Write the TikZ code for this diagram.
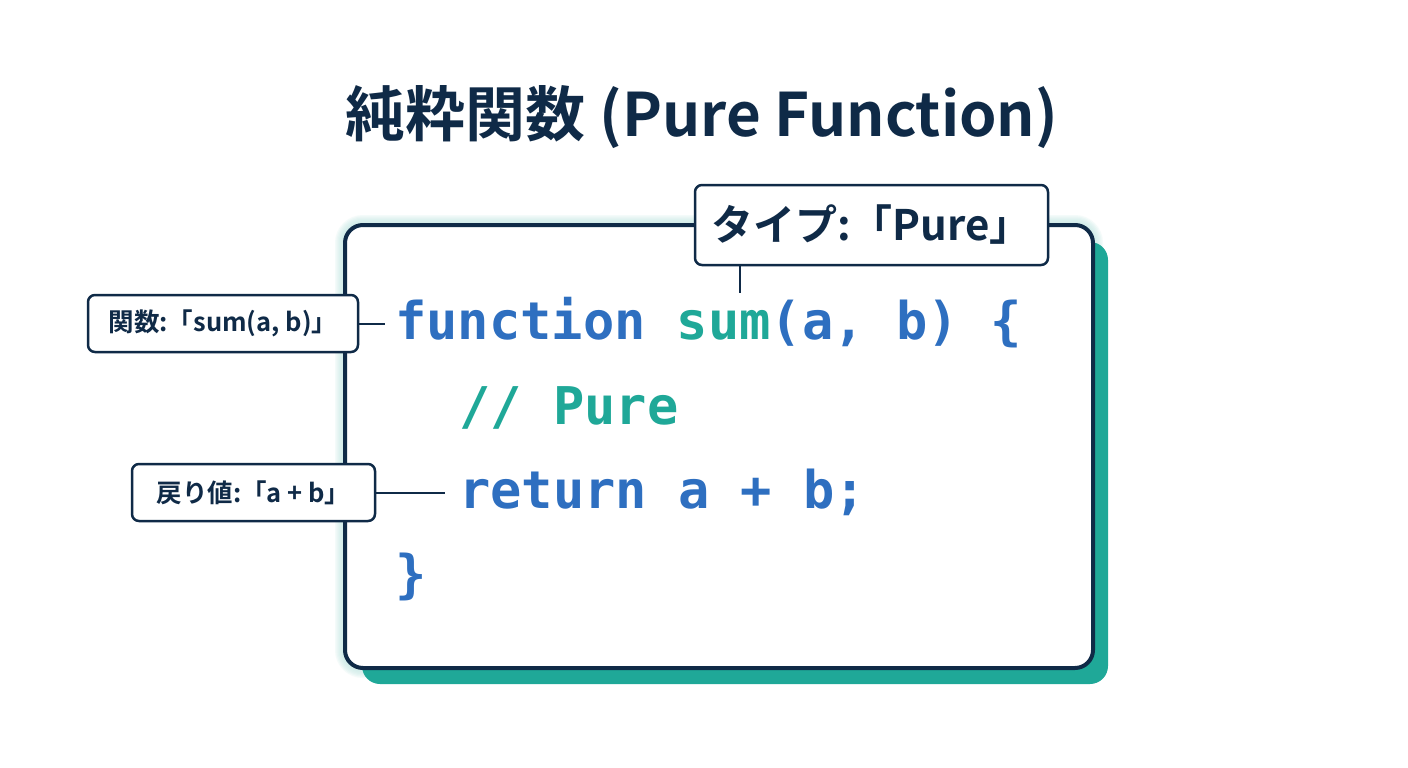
\documentclass[tikz,border=0pt]{standalone}
\usepackage{fontspec}
\newfontfamily\cjk{Noto Sans CJK JP}[BoldFont={* Bold}]
\newfontfamily\codefont{DejaVu Sans Mono}
\definecolor{navy}{HTML}{0F2A47}
\definecolor{cblue}{HTML}{2E6FC0}
\definecolor{cteal}{HTML}{1FA898}
\begin{document}
\begin{tikzpicture}[x=1pt,y=-1pt,
  lbl/.style={draw=navy,line width=2.5pt,fill=white,rounded corners=7pt,inner sep=0pt,text=navy},
  conn/.style={draw=navy,line width=2pt},
  code/.style={anchor=west,inner sep=0pt,font=\codefont\bfseries\fontsize{52}{60}\selectfont}]
\useasboundingbox[fill=white] (0,0) rectangle (1408,768);
\node[font=\cjk\bfseries\fontsize{60}{70}\selectfont,text=navy] (title) at (702,117) {純粋関数 (Pure Function)};
% glow
\foreach \i in {1,...,8}{
  \draw[cteal!25,opacity=0.18,line width=\i*2.5pt,rounded corners=18pt] (345,225) rectangle (1093,668);}
\fill[cteal,rounded corners=18pt] (362,242) rectangle (1108,684);
\draw[navy,fill=white,line width=4pt,rounded corners=18pt] (345,225) rectangle (1093,668);
\node[code,text=cblue] (l1) at (395,323) {function \textcolor{cteal}{sum}(a, b) \{};
\node[code,text=cteal] (l2) at (459,408) {// Pure};
\node[code,text=cblue] (l3) at (459,492) {return a + b;};
\node[code,text=cblue] (l4) at (395,577) {\}};
\node[lbl,minimum width=353pt,minimum height=80pt,font=\cjk\bfseries\fontsize{42}{46}\selectfont] (t) at (871.5,225) {タイプ:「Pure」};
\coordinate (tc) at (740,265);
\draw[conn] (tc) -- (740,293);
\node[lbl,minimum width=270pt,minimum height=57pt,font=\cjk\bfseries\fontsize{25.5}{30}\selectfont] (f) at (223,323.5) {関数:「sum(a, b)」};
\draw[conn] (f.east) -- (385,323.5);
\node[lbl,minimum width=243pt,minimum height=57pt,font=\cjk\bfseries\fontsize{25.5}{30}\selectfont] (r) at (253.5,492.5) {戻り値:「a + b」};
\draw[conn] (r.east) -- (445,492.5);
\end{tikzpicture}
\end{document}
